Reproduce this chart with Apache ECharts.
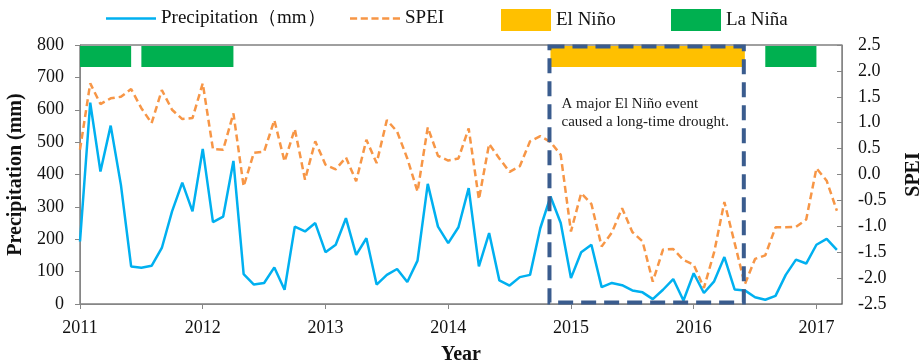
<!DOCTYPE html>
<html><head><meta charset="utf-8">
<script src="https://cdn.jsdelivr.net/npm/echarts@6/dist/echarts.min.js"></script>
<style>html,body{margin:0;padding:0;background:#fff}#c{width:921px;height:363px}</style>
</head><body><div id="c"></div>
<script>
// ---- data (monthly, Jan 2011 = index 0) ----
const yearLabels = ['2011','2012','2013','2014','2015','2016','2017'];
const precipitation = [193,622,409,551,368,116,112,118,173,286,375,286,
  479,253,270,442,92,60,65,113,44,239,224,250,
  160,183,265,152,203,60,90,108,68,134,371,239,
  188,237,358,116,219,73,57,83,90,234,332,250,
  80,160,183,52,65,58,42,36,15,44,77,11,
  95,34,70,145,45,42,21,13,25,90,137,125,
  183,201,167];
const spei = [0.48,1.76,1.36,1.47,1.50,1.65,1.28,0.99,1.63,1.25,1.07,1.09,
  1.76,0.49,0.48,1.18,-0.23,0.42,0.44,1.05,0.25,0.88,-0.10,0.64,
  0.19,0.10,0.33,-0.13,0.67,0.22,1.05,0.83,0.31,-0.33,0.91,0.36,
  0.27,0.31,0.89,-0.48,0.59,0.31,0.05,0.16,0.64,0.74,0.63,0.38,
  -1.10,-0.36,-0.57,-1.39,-1.12,-0.65,-1.11,-1.29,-2.07,-1.45,-1.44,-1.65,
  -1.74,-2.19,-1.50,-0.53,-1.32,-2.12,-1.63,-1.56,-1.02,-1.02,-1.01,-0.87,
  0.12,-0.12,-0.70];
const elNinoPeriods = [[46,65]];
const laNinaPeriods = [[0,5],[6,15],[67,72]];
const droughtBox = [[45.9,64.9]];
const annotationLines = ['A major El Niño event','caused a long-time drought.'];
const precipTicks = [0,100,200,300,400,500,600,700,800];

const FONT = 'Liberation Serif';
const chart = echarts.init(document.getElementById('c'), null, {renderer:'canvas'});

function bandItem(params, api){
  const s = api.coord([api.value(0), 0]);
  const e = api.coord([api.value(1), 0]);
  const cs = params.coordSys;
  return {type:'rect', shape:{x:s[0], y:cs.y+1, width:e[0]-s[0], height:21},
          style:{fill: api.visual('color')}};
}
function boxItem(params, api){
  const s = api.coord([api.value(0), 0]);
  const e = api.coord([api.value(1), 0]);
  const cs = params.coordSys;
  return {type:'group', children:[
    {type:'rect', shape:{x:s[0], y:cs.y+1.5, width:e[0]-s[0], height:cs.height-3},
     style:{fill:'none', stroke:'#3A5C8E', lineWidth:4, lineDash:[15,8]}},
    {type:'text', x:s[0]+12, y:cs.y+50,
     style:{text: annotationLines.join('\n'), font:'15px "Liberation Serif"', fill:'#1a1a1a', lineHeight:18}}
  ]};
}

const solidIcon = 'path://M0,0H50V2.5H0Z';
const dashIcon = 'path://M0,0h7v2.5h-7z M10.5,0h7v2.5h-7z M21,0h7v2.5h-7z M31.5,0h7v2.5h-7z M42,0h7v2.5h-7z';
const legendBase = {itemWidth:50, itemHeight:22, top:4,
  textStyle:{fontFamily:FONT, fontSize:19, color:'#111', padding:[6,0,0,0]}, selectedMode:false};

chart.setOption({
  animation:false,
  grid:{left:80, right:79, top:45, bottom:59, show:true, borderColor:'#404040', borderWidth:1,
        outerBoundsMode:'none', containLabel:false},
  legend:[
    Object.assign({}, legendBase, {left:101, data:[{name:'Precipitation（mm）', icon:solidIcon}]}),
    Object.assign({}, legendBase, {left:345, data:[{name:'SPEI', icon:dashIcon}]}),
    Object.assign({}, legendBase, {left:496, data:[{name:'El Niño', icon:'rect'}]}),
    Object.assign({}, legendBase, {left:666, data:[{name:'La Niña', icon:'rect'}]})
  ],
  xAxis:{type:'value', min:0, max:74.5, interval:12,
    name:'Year', nameLocation:'middle', nameGap:41,
    nameTextStyle:{fontFamily:FONT, fontSize:20, fontWeight:'bold', color:'#111'},
    axisLine:{show:true, lineStyle:{color:'#868686', width:1}},
    axisTick:{show:true, length:5, lineStyle:{color:'#868686'}, customValues: yearLabels.map((y,i)=>i*12)},
    axisLabel:{fontFamily:FONT, fontSize:18, color:'#111', margin:15,
      customValues: yearLabels.map((y,i)=>i*12),
      formatter: v => yearLabels[Math.round(v/12)] || ''},
    splitLine:{show:false}},
  yAxis:[
    {type:'value', min:0, max:800, interval:100, position:'left',
     name:'Precipitation (mm)', nameLocation:'middle', nameGap:48, nameRotate:90,
     nameTextStyle:{fontFamily:FONT, fontSize:20, fontWeight:'bold', color:'#111'},
     axisLine:{show:true, lineStyle:{color:'#868686'}},
     axisTick:{show:true, length:5, lineStyle:{color:'#868686'}},
     axisLabel:{fontFamily:FONT, fontSize:18, color:'#111', margin:16,
       customValues: precipTicks},
     splitLine:{show:false}},
    {type:'value', min:-2.5, max:2.5, interval:0.5, position:'right',
     name:'SPEI', nameLocation:'middle', nameGap:62, nameRotate:90,
     nameTextStyle:{fontFamily:FONT, fontSize:20, fontWeight:'bold', color:'#111'},
     axisLine:{show:true, lineStyle:{color:'#868686'}},
     axisTick:{show:true, inside:true, length:5, lineStyle:{color:'#868686'}},
     axisLabel:{fontFamily:FONT, fontSize:18, color:'#111', margin:16,
       formatter: v => v.toFixed(1)},
     splitLine:{show:false}}
  ],
  series:[
    {name:'El Niño', type:'custom', xAxisIndex:0, yAxisIndex:1, renderItem:bandItem,
     itemStyle:{color:'#FFC000'}, data: elNinoPeriods, z:1, silent:true},
    {name:'La Niña', type:'custom', xAxisIndex:0, yAxisIndex:1, renderItem:bandItem,
     itemStyle:{color:'#00B050'}, data: laNinaPeriods, z:1, silent:true},
    {name:'Precipitation（mm）', type:'line', xAxisIndex:0, yAxisIndex:0, symbol:'none',
     lineStyle:{color:'#00B0F0', width:2.5}, itemStyle:{color:'#00B0F0'},
     data: precipitation.map((v,i)=>[i,v]), z:2},
    {name:'SPEI', type:'line', xAxisIndex:0, yAxisIndex:1, symbol:'none',
     lineStyle:{color:'#F79646', width:2.5, type:[7,4]}, itemStyle:{color:'#F79646'},
     data: spei.map((v,i)=>[i,v]), z:3},
    {name:'box', type:'custom', xAxisIndex:0, yAxisIndex:1, renderItem:boxItem,
     data: droughtBox, z:4, silent:true}
  ]
});
</script></body></html>
